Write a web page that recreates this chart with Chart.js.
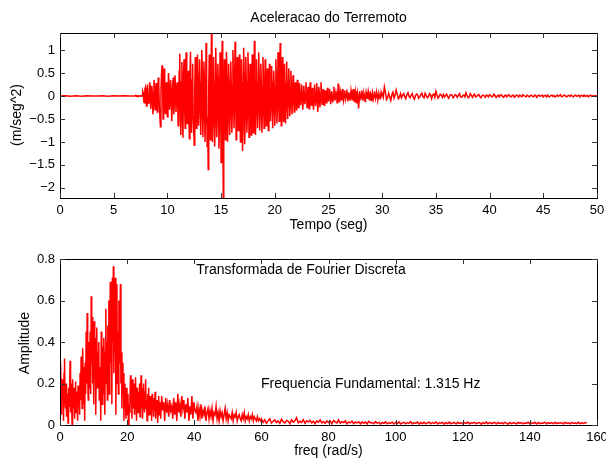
<!DOCTYPE html>
<html>
<head>
<meta charset="utf-8">
<script src="https://cdn.jsdelivr.net/npm/chart.js@4.4.1/dist/chart.umd.min.js"></script>
<style>
  html, body { margin: 0; padding: 0; background: #fff; }
  #wrap { position: relative; width: 606px; height: 458px; overflow: hidden; }
  canvas { position: absolute; left: 0; }
  #c1 { top: 0; }
  #c2 { top: 235px; }
</style>
</head>
<body>
<div id="wrap">
  <canvas id="c1" width="606" height="235"></canvas>
  <canvas id="c2" width="606" height="223"></canvas>
</div>
<script>
// ---------------- DATA ----------------
// Time segments (start, step in seconds)
const tempoInicio = [0, 7.0, 30.0];
const tempoPasso = [0.5, 0.05, 0.1];

// Acceleration before the event (t = 0 .. 6.5 s)
const aceleracaoPre = [0, 0.005, -0.004, 0.003, -0.005, 0.004, 0, -0.003, 0.005, -0.004, 0.003, -0.002, 0.004, -0.003];

// Strong-motion part (t = 7.0 .. 29.95 s, step 0.05), one line per second
const aceleracaoForte = [
  0.00, 0.005, -0.004, 0.003, 0.00, -0.005, 0.004, 0.002, -0.003, 0.004, 0.00, -0.004, 0.005, 0.003, 0.10, 0.06, -0.12, -0.15, 0.14, 0.18,
  -0.10, -0.22, 0.12, 0.25, 0.05, -0.18, -0.10, 0.30, 0.20, -0.28, -0.12, 0.22, 0.08, -0.40, -0.20, 0.35, 0.18, -0.30, -0.05, 0.28,
  0.10, -0.35, -0.15, 0.40, 0.22, -0.25, -0.45, -0.67, 0.10, 0.45, 0.67, 0.20, -0.50, -0.30, 0.60, 0.35, -0.38, -0.15, 0.30, 0.10,
  -0.45, -0.20, 0.50, 0.25, -0.30, -0.10, 0.35, 0.15, -0.55, -0.25, 0.25, 0.40, -0.40, -0.15, 0.45, 0.20, -0.35, -0.10, 0.30, 0.05,
  -0.65, -0.30, 0.55, 0.92, -0.40, -0.85, 0.30, 0.74, -0.50, -0.91, 0.45, 0.80, -0.20, -0.70, 0.60, 0.95, -0.35, -0.60, 0.25, 0.55,
  -0.50, -0.93, 0.40, 0.96, -0.30, -0.80, 0.35, 0.70, -0.45, -0.75, -1.07, 0.20, 0.85, 0.40, -0.70, -0.30, 0.90, 0.45, -0.65, -0.25,
  0.80, 0.30, -0.85, -0.40, 1.00, 0.55, -0.90, -0.35, 0.75, 0.20, -1.00, -0.50, 1.15, 0.60, -1.10, -0.45, -1.60, 0.20, 0.90, 0.40,
  -0.95, -0.40, 1.37, 0.70, -1.00, -0.50, 0.85, 0.30, -1.10, -0.60, 1.05, 0.45, -0.90, -0.35, 0.70, 0.25, -1.15, -0.55, 0.95, 0.50,
  -1.45, -0.70, 1.20, 0.55, -2.22, -0.90, 0.80, 0.35, -0.95, -0.40, 0.96, 0.45, -1.00, -0.50, 0.70, 0.30, -0.85, -0.35, 0.75, 0.25,
  -0.80, -0.30, 1.00, 0.45, -0.70, -0.25, 1.18, 0.60, -0.95, -0.40, 0.85, 0.35, -0.75, -0.30, 0.90, 0.40, -1.00, -0.45, 0.80, 0.30,
  -1.20, -0.55, 1.05, 0.50, -1.05, -0.40, 0.85, 0.30, -0.80, -0.35, 0.95, 0.45, -0.90, -0.30, 0.70, 0.25, -0.85, -0.40, 0.90, 0.35,
  -0.80, -0.30, 1.20, 0.50, -0.85, -0.35, 0.80, 0.30, -0.70, -0.25, 0.95, 0.40, -0.75, -0.30, 0.70, 0.20, -0.80, -0.35, 0.85, 0.30,
  -0.70, -0.25, 0.80, 0.35, -0.65, -0.20, 0.60, 0.25, -0.75, -0.30, 0.70, 0.25, -0.55, -0.20, 0.65, 0.30, -0.70, -0.25, 0.55, 0.20,
  -0.65, -0.25, 0.80, 0.30, -0.60, -0.20, 0.95, 0.40, -0.55, -0.20, 1.15, 0.45, -0.65, -0.25, 0.85, 0.35, -0.55, -0.15, 0.70, 0.25,
  -0.60, -0.20, 0.75, 0.30, -0.50, -0.15, 0.60, 0.20, -0.44, -0.15, 0.55, 0.20, -0.40, -0.10, 0.45, 0.15, -0.35, -0.10, 0.30, 0.10,
  -0.30, -0.10, 0.35, 0.12, -0.25, -0.08, 0.28, 0.10, -0.20, -0.05, 0.25, 0.08, -0.30, -0.10, 0.22, 0.06, -0.18, -0.05, 0.30, 0.10,
  -0.25, -0.08, 0.20, 0.05, -0.28, -0.10, 0.30, 0.12, -0.20, -0.06, 0.18, 0.04, -0.30, -0.12, 0.25, 0.08, -0.22, -0.07, 0.28, 0.10,
  -0.35, -0.12, 0.20, 0.06, -0.25, -0.08, 0.30, 0.10, -0.18, -0.05, 0.15, 0.04, -0.20, -0.06, 0.12, 0.03, -0.15, -0.04, 0.18, 0.05,
  -0.12, -0.03, 0.15, 0.05, -0.18, -0.06, 0.10, 0.02, -0.14, -0.04, 0.20, 0.06, -0.10, -0.02, 0.08, 0.02, -0.15, -0.05, 0.27, 0.08,
  -0.12, -0.04, 0.10, 0.03, -0.08, -0.02, 0.15, 0.05, -0.10, -0.03, 0.12, 0.04, -0.06, -0.01, 0.14, 0.04, -0.12, -0.03, 0.08, 0.02,
  -0.10, -0.03, 0.12, 0.04, -0.08, -0.02, 0.15, 0.05, -0.12, -0.04, 0.10, 0.02, -0.15, -0.05, 0.08, 0.01, -0.27, -0.10, 0.10, 0.03,
  -0.08, -0.02, 0.12, 0.04, -0.10, -0.03, 0.06, 0.01, -0.12, -0.04, 0.08, 0.02, -0.05, -0.01, 0.10, 0.03, -0.08, -0.02, 0.06, 0.02,
  -0.10, -0.03, 0.08, 0.02, -0.06, -0.02, 0.10, 0.03, -0.05, -0.01, 0.07, 0.02, -0.08, -0.03, 0.05, 0.01, -0.06, -0.02, 0.08, 0.02
];

// Tail (t = 30 .. 50 s, step 0.1), one line per second
const aceleracaoCauda = [
  0.05, -0.03, 0.20, 0.08, -0.08, -0.04, 0.06, -0.02, -0.10, 0.03,
  0.08, -0.05, 0.02, 0.13, 0.04, -0.06, -0.03, 0.05, -0.04, 0.02,
  0.05, -0.02, -0.06, 0.03, 0.07, -0.01, -0.04, 0.02, 0.05, -0.03,
  -0.07, 0.01, 0.04, 0.02, -0.05, -0.02, 0.03, 0.06, -0.02, -0.04,
  0.06, 0.01, -0.04, -0.02, 0.05, 0.03, -0.06, 0.02, 0.04, -0.03,
  0.10, 0.02, -0.05, -0.01, 0.04, 0.02, -0.03, 0.03, -0.02, 0.01,
  0.04, -0.02, -0.05, 0.01, 0.03, 0.02, -0.04, -0.01, 0.03, 0.01,
  -0.03, 0.02, 0.05, -0.02, -0.03, 0.01, 0.02, -0.02, 0.07, 0.01,
  -0.04, -0.02, 0.05, 0.02, -0.03, 0.01, 0.04, -0.02, -0.01, 0.02,
  0.03, -0.02, -0.04, 0.01, 0.02, 0.00, -0.03, 0.02, 0.01, -0.02,
  0.03, 0.01, -0.02, -0.01, 0.04, 0.01, -0.03, 0.00, 0.02, -0.02,
  0.02, 0.03, -0.01, -0.03, 0.01, 0.02, -0.02, 0.01, 0.03, -0.01,
  -0.02, 0.01, 0.02, -0.03, -0.01, 0.02, 0.01, -0.02, 0.02, 0.00,
  -0.02, 0.03, 0.01, -0.01, -0.02, 0.02, 0.00, -0.02, 0.01, 0.02,
  -0.01, -0.02, 0.02, 0.01, -0.03, 0.01, 0.02, -0.01, 0.00, 0.02,
  -0.02, 0.01, 0.01, -0.02, 0.02, -0.01, -0.02, 0.01, 0.02, -0.01,
  0.01, -0.02, 0.00, 0.02, -0.01, 0.01, 0.03, -0.02, -0.01, 0.01,
  0.02, -0.01, -0.02, 0.01, 0.01, -0.01, 0.02, 0.00, -0.02, 0.01,
  0.02, -0.01, 0.00, 0.02, -0.02, 0.01, 0.01, -0.01, 0.02, -0.01,
  0.00, 0.01, -0.02, 0.01, 0.02, -0.01, 0.00, 0.01, -0.01, 0.01,
  0.00
];

// Frequency segments (start, step in rad/s)
const freqInicio = [0, 30, 60];
const freqPasso = [0.15, 0.3, 0.5];

// DFT amplitude, 0 .. 29.85 rad/s (step 0.15), one line per 3 rad/s
const amplitudePico = [
  0.12, 0.30, 0.18, 0.05, 0.22, 0.10, 0.16, 0.02, 0.25, 0.32, 0.12, 0.08, 0.20, 0.04, 0.15, 0.10, 0.01, 0.18, 0.09, 0.14,
  0.31, 0.06, 0.20, 0.12, 0.00, 0.22, 0.14, 0.08, 0.18, 0.03, 0.12, 0.21, 0.06, 0.16, 0.10, 0.02, 0.19, 0.11, 0.15, 0.05,
  0.25, 0.12, 0.33, 0.18, 0.08, 0.37, 0.22, 0.10, 0.28, 0.02, 0.30, 0.15, 0.45, 0.20, 0.54, 0.25, 0.12, 0.40, 0.18, 0.30,
  0.45, 0.15, 0.62, 0.30, 0.52, 0.20, 0.35, 0.10, 0.50, 0.22, 0.42, 0.05, 0.30, 0.47, 0.18, 0.35, 0.25, 0.40, 0.12, 0.28,
  0.20, 0.02, 0.45, 0.25, 0.10, 0.38, 0.15, 0.42, 0.30, 0.05, 0.35, 0.56, 0.20, 0.40, 0.12, 0.48, 0.28, 0.60, 0.15, 0.50,
  0.69, 0.30, 0.55, 0.10, 0.71, 0.40, 0.765, 0.25, 0.60, 0.35, 0.71, 0.05, 0.50, 0.68, 0.20, 0.45, 0.15, 0.60, 0.30, 0.40,
  0.68, 0.20, 0.35, 0.08, 0.30, 0.15, 0.25, 0.02, 0.20, 0.10, 0.12, 0.03, 0.18, 0.08, 0.05, 0.15, 0.00, 0.10, 0.06, 0.12,
  0.24, 0.10, 0.18, 0.03, 0.22, 0.12, 0.08, 0.20, 0.05, 0.15, 0.23, 0.10, 0.02, 0.18, 0.12, 0.06, 0.16, 0.09, 0.20, 0.04,
  0.12, 0.24, 0.08, 0.18, 0.03, 0.14, 0.20, 0.10, 0.06, 0.16, 0.22, 0.08, 0.12, 0.02, 0.15, 0.09, 0.18, 0.05, 0.11, 0.14,
  0.05, 0.12, 0.02, 0.15, 0.08, 0.11, 0.04, 0.13, 0.07, 0.16, 0.03, 0.10, 0.06, 0.12, 0.01, 0.09, 0.14, 0.05, 0.11, 0.08
];

// DFT amplitude, 30 .. 59.7 rad/s (step 0.3)
const amplitudeMedia = [
  0.03, 0.14, 0.07, 0.11, 0.02, 0.13, 0.06, 0.10, 0.04, 0.12,
  0.07, 0.09, 0.03, 0.13, 0.05, 0.11, 0.02, 0.15, 0.06, 0.10,
  0.04, 0.14, 0.08, 0.12, 0.03, 0.10, 0.06, 0.13, 0.02, 0.09,
  0.05, 0.14, 0.03, 0.11, 0.07, 0.06, 0.09, 0.02, 0.08, 0.04,
  0.10, 0.03, 0.07, 0.05, 0.09, 0.02, 0.06, 0.08, 0.03, 0.07,
  0.04, 0.08, 0.02, 0.06, 0.05, 0.09, 0.03, 0.06, 0.02, 0.07,
  0.04, 0.06, 0.02, 0.05, 0.08, 0.03, 0.06, 0.02, 0.05, 0.04,
  0.03, 0.06, 0.02, 0.05, 0.04, 0.06, 0.02, 0.04, 0.05, 0.03,
  0.02, 0.05, 0.03, 0.06, 0.02, 0.04, 0.03, 0.05, 0.02, 0.04,
  0.03, 0.05, 0.02, 0.04, 0.03, 0.02, 0.04, 0.02, 0.03, 0.02
];

// DFT amplitude, 60 .. 157 rad/s (step 0.5), one line per 10 rad/s
const amplitudeAlta = [
  0.03, 0.012, 0.025, 0.008, 0.02, 0.03, 0.01, 0.018, 0.025, 0.012, 0.02, 0.008, 0.028, 0.015, 0.01, 0.022, 0.018, 0.006, 0.025, 0.014,
  0.02, 0.035, 0.01, 0.018, 0.012, 0.025, 0.008, 0.02, 0.015, 0.022, 0.01, 0.018, 0.006, 0.02, 0.014, 0.025, 0.01, 0.016, 0.008, 0.02,
  0.012, 0.02, 0.006, 0.022, 0.015, 0.01, 0.025, 0.008, 0.016, 0.012, 0.02, 0.005, 0.015, 0.01, 0.018, 0.007, 0.014, 0.01, 0.016, 0.006,
  0.015, 0.008, 0.014, 0.005, 0.018, 0.01, 0.012, 0.006, 0.016, 0.009, 0.013, 0.004, 0.012, 0.008, 0.015, 0.006, 0.011, 0.009, 0.014, 0.005,
  0.012, 0.007, 0.015, 0.005, 0.01, 0.013, 0.006, 0.012, 0.008, 0.016, 0.005, 0.011, 0.009, 0.014, 0.004, 0.012, 0.007, 0.013, 0.006, 0.01,
  0.014, 0.006, 0.012, 0.008, 0.015, 0.005, 0.011, 0.009, 0.013, 0.004, 0.012, 0.007, 0.014, 0.006, 0.01, 0.012, 0.005, 0.013, 0.008, 0.011,
  0.006, 0.012, 0.008, 0.014, 0.005, 0.011, 0.009, 0.013, 0.006, 0.01, 0.012, 0.004, 0.011, 0.008, 0.014, 0.006, 0.012, 0.007, 0.01, 0.013,
  0.005, 0.012, 0.008, 0.011, 0.006, 0.013, 0.009, 0.004, 0.012, 0.007, 0.011, 0.01, 0.005, 0.013, 0.008, 0.012, 0.006, 0.01, 0.009, 0.014,
  0.006, 0.011, 0.008, 0.013, 0.005, 0.012, 0.007, 0.01, 0.009, 0.014, 0.005, 0.011, 0.008, 0.012, 0.006, 0.013, 0.007, 0.011, 0.009, 0.012,
  0.005, 0.013, 0.008, 0.011, 0.006, 0.012, 0.009, 0.01, 0.007, 0.013, 0.006, 0.011, 0.008, 0.012, 0.009
];

// Tick labels
const ticksTempo = [0, 5, 10, 15, 20, 25, 30, 35, 40, 45, 50];
const ticksAcel = [-2, -1.5, -1, -0.5, 0, 0.5, 1];
const ticksFreq = [0, 20, 40, 60, 80, 100, 120, 140, 160];
const ticksAmp = [0, 0.2, 0.4, 0.6, 0.8];

// ---------------- BUILD ----------------
function segmento(inicio, passo, valores) {
  return valores.map((v, i) => ({ x: +(inicio + i * passo).toFixed(4), y: v }));
}
const pontosAcel = [].concat(
  segmento(tempoInicio[0], tempoPasso[0], aceleracaoPre),
  segmento(tempoInicio[1], tempoPasso[1], aceleracaoForte),
  segmento(tempoInicio[2], tempoPasso[2], aceleracaoCauda)
);
const pontosAmp = [].concat(
  segmento(freqInicio[0], freqPasso[0], amplitudePico),
  segmento(freqInicio[1], freqPasso[1], amplitudeMedia),
  segmento(freqInicio[2], freqPasso[2], amplitudeAlta)
);

const FONT = '"Liberation Sans", Arial, Helvetica, sans-serif';
const fmt = v => String(+v.toFixed(2)).replace('-', '\u2212');

const framePlugin = {
  id: 'matlabFrame',
  afterDraw(chart, args, opts) {
    const { ctx, chartArea: a } = chart;
    ctx.save();
    ctx.strokeStyle = '#000';
    ctx.lineWidth = 1;
    ctx.strokeRect(Math.round(a.left) + 0.5, Math.round(a.top) + 0.5,
                   Math.round(a.right - a.left), Math.round(a.bottom - a.top));
    const L = 5;
    ctx.strokeStyle = '#333';
    ctx.beginPath();
    chart.scales.x.ticks.forEach(t => {
      const px = Math.round(chart.scales.x.getPixelForValue(t.value)) + 0.5;
      ctx.moveTo(px, a.bottom); ctx.lineTo(px, a.bottom - L);
      ctx.moveTo(px, a.top); ctx.lineTo(px, a.top + L);
    });
    chart.scales.y.ticks.forEach(t => {
      const py = Math.round(chart.scales.y.getPixelForValue(t.value)) + 0.5;
      ctx.moveTo(a.left, py); ctx.lineTo(a.left + L, py);
      ctx.moveTo(a.right, py); ctx.lineTo(a.right - L, py);
    });
    ctx.stroke();
    ctx.fillStyle = '#000';
    ctx.textBaseline = 'middle';
    (opts.texts || []).forEach(t => {
      ctx.save();
      ctx.font = (t.size || 14) + 'px ' + FONT;
      ctx.textAlign = t.align || 'center';
      ctx.translate(t.x, t.y);
      if (t.rot) ctx.rotate(t.rot);
      ctx.fillText(t.text, 0, 0);
      ctx.restore();
    });
    ctx.restore();
  }
};

function makeChart(el, pontos, cfg) {
  return new Chart(el, {
    type: 'line',
    data: {
      datasets: [{
        data: pontos,
        borderColor: '#ff0000',
        borderWidth: 1.5,
        pointRadius: 0,
        tension: 0,
        fill: false
      }]
    },
    options: {
      responsive: false,
      animation: false,
      devicePixelRatio: 1,
      parsing: false,
      normalized: true,
      layout: { padding: { top: cfg.top, right: 9, left: 0, bottom: 0 } },
      plugins: {
        legend: { display: false },
        tooltip: { enabled: false },
        matlabFrame: { texts: cfg.texts }
      },
      scales: {
        x: {
          type: 'linear',
          min: cfg.xMin, max: cfg.xMax,
          grid: { display: false, drawTicks: false },
          border: { display: false },
          afterBuildTicks: s => { s.ticks = cfg.xTicks.map(v => ({ value: v })); },
          afterFit: s => { s.height = cfg.xH; s.paddingLeft = 0; s.paddingRight = 0; },
          ticks: {
            autoSkip: false, maxRotation: 0, padding: 5, color: '#000',
            font: { family: FONT, size: 13 },
            callback: v => fmt(v)
          }
        },
        y: {
          type: 'linear',
          min: cfg.yMin, max: cfg.yMax,
          grid: { display: false, drawTicks: false },
          border: { display: false },
          afterBuildTicks: s => { s.ticks = cfg.yTicks.map(v => ({ value: v })); },
          afterFit: s => { s.width = 60; s.paddingTop = 0; s.paddingBottom = 0; },
          ticks: {
            autoSkip: false, padding: 5, color: '#000',
            font: { family: FONT, size: 13 },
            callback: v => fmt(v)
          }
        }
      }
    },
    plugins: [framePlugin]
  });
}

makeChart(document.getElementById('c1'), pontosAcel, {
  top: 33, xH: 37,
  xMin: 0, xMax: 50, yMin: -2.22, yMax: 1.37,
  xTicks: ticksTempo, yTicks: ticksAcel,
  texts: [
    { text: 'Aceleracao do Terremoto', x: 328.5, y: 18 },
    { text: 'Tempo (seg)', x: 328.5, y: 225 },
    { text: '(m/seg^2)', x: 17.5, y: 115, rot: -Math.PI / 2 }
  ]
});

makeChart(document.getElementById('c2'), pontosAmp, {
  top: 24, xH: 33,
  xMin: 0, xMax: 160, yMin: 0, yMax: 0.8,
  xTicks: ticksFreq, yTicks: ticksAmp,
  texts: [
    { text: 'Transformada de Fourier Discreta', x: 301, y: 35 },
    { text: 'Frequencia Fundamental: 1.315 Hz', x: 261, y: 149, align: 'left' },
    { text: 'freq (rad/s)', x: 328.5, y: 216 },
    { text: 'Amplitude', x: 25, y: 108, rot: -Math.PI / 2 }
  ]
});
</script>
</body>
</html>
